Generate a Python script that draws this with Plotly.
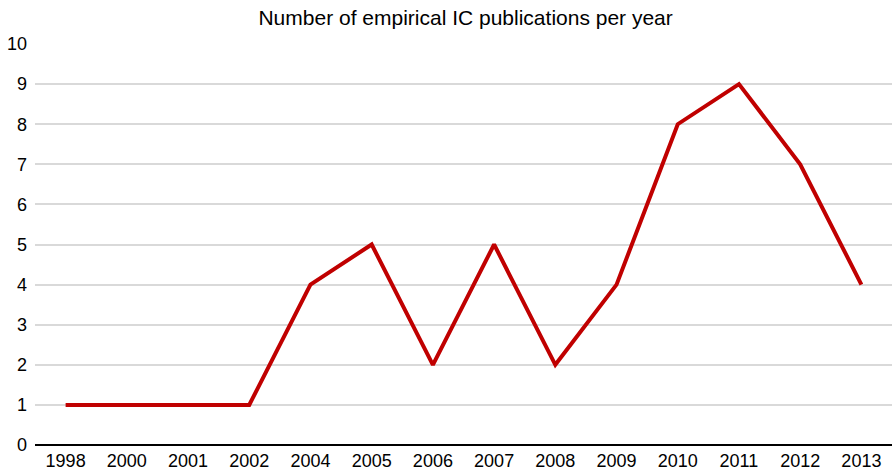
import plotly.graph_objects as go

years = ["1998", "2000", "2001", "2002", "2004", "2005", "2006", "2007",
         "2008", "2009", "2010", "2011", "2012", "2013"]
publications = [1, 1, 1, 1, 4, 5, 2, 5, 2, 4, 8, 9, 7, 4]
y_ticks = list(range(0, 11))

fig = go.Figure()
fig.add_trace(go.Scatter(
    x=years, y=publications, mode="lines",
    line=dict(color="#c00000", width=4),
    hoverinfo="x+y",
))

fig.update_layout(
    width=892, height=471,
    margin=dict(l=35, r=0, t=44, b=24),
    paper_bgcolor="white", plot_bgcolor="white",
    font=dict(family="Liberation Sans, Arial, sans-serif", size=18, color="black"),
    title=dict(text="Number of empirical IC publications per year",
               x=0.522, xanchor="center", y=0.962, yanchor="middle",
               font=dict(size=21)),
    showlegend=False,
)
fig.update_xaxes(
    type="category", range=[-0.5, len(years) - 0.5],
    showgrid=False, showline=False, zeroline=False,
    ticks="", ticklabelstandoff=3, tickfont=dict(size=18),
)
fig.update_yaxes(
    range=[0, 10], tickvals=y_ticks, showgrid=True, gridcolor="#d9d9d9",
    gridwidth=2, zeroline=True, zerolinecolor="black", zerolinewidth=2,
    ticks="", ticklabelstandoff=7, tickfont=dict(size=18), fixedrange=True,
)

fig.write_html("out.html")
